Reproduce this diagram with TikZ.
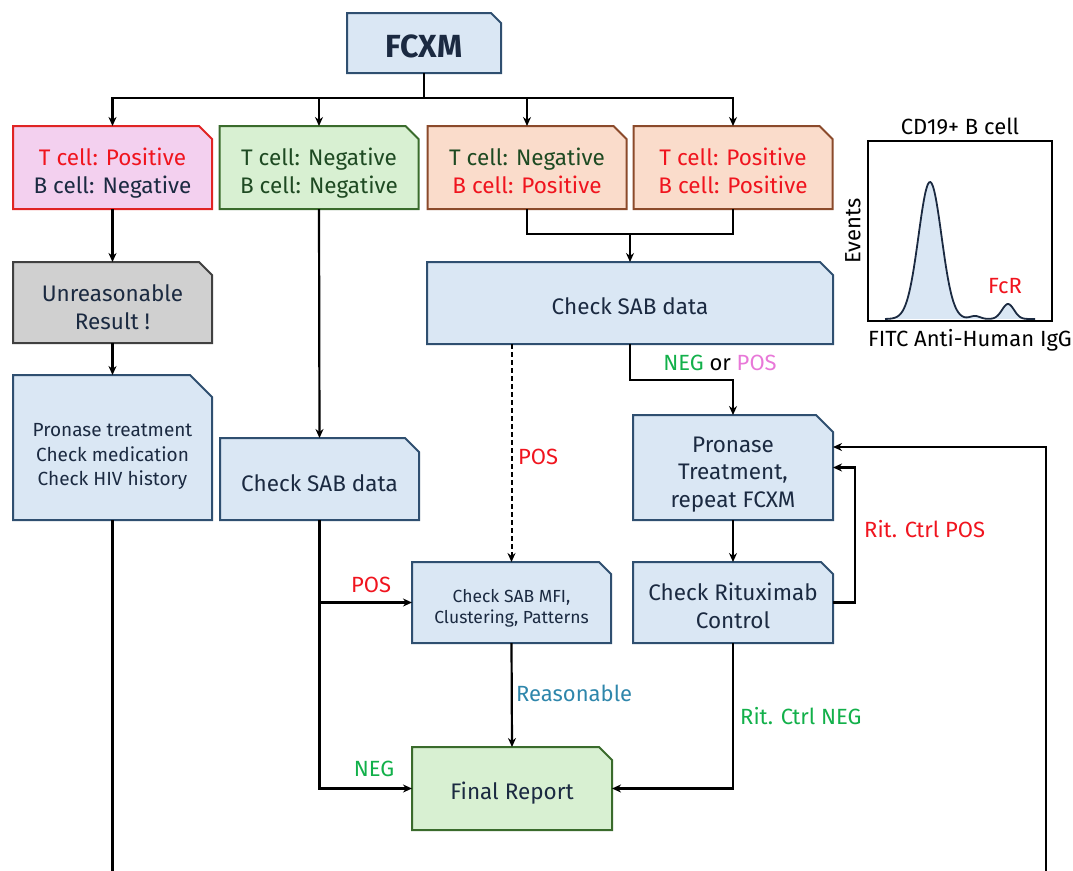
\documentclass[tikz,border=0pt]{standalone}
\usepackage{fontspec}
\setmainfont{Fira Sans}
\usetikzlibrary{arrows.meta,backgrounds}

\definecolor{bluefill}{HTML}{DAE7F4}
\definecolor{blueedge}{HTML}{2F4F70}
\definecolor{navy}{HTML}{1B2A41}
\definecolor{greenfill}{HTML}{D8F0D2}
\definecolor{greenedge}{HTML}{3A6B2C}
\definecolor{pinkfill}{HTML}{F3D0EF}
\definecolor{pinkedge}{HTML}{E02424}
\definecolor{peachfill}{HTML}{FADCCB}
\definecolor{peachedge}{HTML}{8B4A2B}
\definecolor{grayfill}{HTML}{D0D0D0}
\definecolor{grayedge}{HTML}{404040}
\definecolor{posred}{HTML}{F0141E}
\definecolor{negdark}{HTML}{1E4A22}
\definecolor{lblgreen}{HTML}{12B04A}
\definecolor{lblpink}{HTML}{E878D8}
\definecolor{lblblue}{HTML}{2E86AB}

\newcommand\fs[2]{\fontsize{#1}{#2}\selectfont}

% outline of a box with its top-right corner cut off
\newcommand\cutshape[4]{%
  \path[fill=#2, draw=#3, line width=2pt, line join=miter]
    (#1.south west) -- (#1.north west) -- ([xshift=-#4pt]#1.north east)
    -- ([yshift=-#4pt]#1.north east) -- (#1.south east) -- cycle;}

\tikzset{
  boxframe/.style={inner sep=0pt, outer sep=0pt},
  boxtext/.style={inner sep=0pt, outer sep=0pt, align=center, text=navy, font=\fs{22.5}{28}},
  arr/.style={-{Stealth[length=9pt,width=8pt]}, line width=2.2pt},
  wire/.style={line width=2.2pt},
  lbl/.style={inner sep=0pt, font=\fs{22}{26}},
}

\begin{document}
\begin{tikzpicture}[x=1pt, y=-1pt]
\useasboundingbox (0,0) rectangle (1073,870);

% ---------- boxes ----------
\node[boxframe, minimum width=154, minimum height=60] (fcxm) at (424,43) {};
\node[boxtext, font=\fs{32}{34}\bfseries] (fcxmt) at ([yshift=-3pt]fcxm.center) {FCXM};

\node[boxframe, minimum width=199, minimum height=83] (b1) at (112.5,167.5) {};
\node[boxtext] (b1t) at ([yshift=-6pt]b1.center)
  {\textcolor{posred}{T cell: Positive}\\B cell: Negative};
\node[boxframe, minimum width=199, minimum height=83] (b2) at (319,167.5) {};
\node[boxtext, text=negdark] (b2t) at ([yshift=-6pt]b2.center)
  {T cell: Negative\\B cell: Negative};
\node[boxframe, minimum width=199, minimum height=83] (b3) at (527,167.5) {};
\node[boxtext, text=negdark] (b3t) at ([yshift=-3pt]b3.center)
  {T cell: Negative\\\textcolor{posred}{B cell: Positive}};
\node[boxframe, minimum width=199, minimum height=83] (b4) at (733,167.5) {};
\node[boxtext, text=posred] (b4t) at ([yshift=-3pt]b4.center)
  {T cell: Positive\\B cell: Positive};

\node[boxframe, minimum width=199, minimum height=81] (gray) at (112.5,302.5) {};
\node[boxtext] (grayt) at ([yshift=-5pt]gray.center) {Unreasonable\\Result !};
\node[boxframe, minimum width=199, minimum height=145] (prl) at (112.5,447.5) {};
\node[boxtext, font=\fs{19}{24.5}] (prlt) at ([yshift=-9pt]prl.center)
  {Pronase treatment\\Check medication\\Check HIV history};

\node[boxframe, minimum width=406, minimum height=82] (sab) at (630,303) {};
\node[boxtext] (sabt) at ([yshift=-3.5pt]sab.center) {Check SAB data};
\node[boxframe, minimum width=199, minimum height=82] (sabl) at (319.5,479) {};
\node[boxtext] (sablt) at ([yshift=-4pt]sabl.center) {Check SAB data};

\node[boxframe, minimum width=200, minimum height=105] (prr) at (733,467.5) {};
\node[boxtext, font=\fs{22.5}{27.5}] (prrt) at ([yshift=-7pt]prr.center)
  {Pronase\\Treatment,\\repeat FCXM};
\node[boxframe, minimum width=200, minimum height=81] (rit) at (733,602.5) {};
\node[boxtext] (ritt) at ([yshift=-3.5pt]rit.center) {Check Rituximab\\Control};
\node[boxframe, minimum width=199, minimum height=81] (mfi) at (511.5,602.5) {};
\node[boxtext, font=\fs{17.5}{21}] (mfit) at ([yshift=-6pt]mfi.center)
  {Check SAB MFI,\\Clustering, Patterns};
\node[boxframe, minimum width=200, minimum height=83] (final) at (512,788.5) {};
\node[boxtext] (finalt) at ([yshift=-5pt]final.center) {Final Report};

\begin{scope}[on background layer]
  \cutshape{fcxm}{bluefill}{blueedge}{10}
  \cutshape{b1}{pinkfill}{pinkedge}{13}
  \cutshape{b2}{greenfill}{greenedge}{13}
  \cutshape{b3}{peachfill}{peachedge}{13}
  \cutshape{b4}{peachfill}{peachedge}{13}
  \cutshape{gray}{grayfill}{grayedge}{13}
  \cutshape{prl}{bluefill}{blueedge}{22}
  \cutshape{sab}{bluefill}{blueedge}{13}
  \cutshape{sabl}{bluefill}{blueedge}{14}
  \cutshape{prr}{bluefill}{blueedge}{17}
  \cutshape{rit}{bluefill}{blueedge}{12}
  \cutshape{mfi}{bluefill}{blueedge}{12}
  \cutshape{final}{greenfill}{greenedge}{13}
\end{scope}

% ---------- connectors ----------
\coordinate (bus) at (0,98);
\coordinate (merge) at (630,234);
\coordinate (lend) at (112.5,872);
\coordinate (rend) at (1046,872);

\draw[wire] (fcxm.south) -- (fcxm.south |- bus);
\draw[wire, line cap=rect] (b1.north |- bus) -- (b4.north |- bus);
\foreach \n in {b1,b2,b3,b4} \draw[arr] (\n.north |- bus) -- (\n.north);

\draw[arr] (b1.south) -- (gray.north);
\draw[arr] (gray.south) -- (prl.north);
\draw[wire] (prl.south) -- (lend);

\draw[arr] (b2.south) -- (sabl.north);
\draw[wire] (b3.south) |- (b4.south |- merge) -- (b4.south);
\draw[arr] (merge) -- (merge |- sab.north);

\draw[arr, line width=2pt, dash pattern=on 5pt off 3pt] (mfi.north |- sab.south) -- (mfi.north);
\draw[arr] (sab.south) -- ++(0,36) -| (prr.north);
\draw[arr] (prr.south) -- (rit.north);
\draw[arr] (rit.east) -- ++(22,0) |- (prr.east);
\draw[arr] (rend) |- ([yshift=20.5pt]prr.east);
\draw[arr] (rit.south) |- (final.east);

\draw[arr] (sabl.south) |- (final.west);
\draw[arr] (sabl.south |- mfi.west) -- (mfi.west);
\draw[arr] (mfi.south) -- (final.north);

% ---------- connector labels ----------
\node[lbl] (lnegpos) at (720,363) {\textcolor{lblgreen}{NEG} or \textcolor{lblpink}{POS}};
\node[lbl, text=posred] (lposd) at (538,457) {POS};
\node[lbl, text=posred] (lposb) at (371,585) {POS};
\node[lbl, text=lblgreen] (lneg) at (374,769) {NEG};
\node[lbl, text=lblblue, anchor=west] (lreas) at (516,693) {Reasonable};
\node[lbl, text=lblgreen, anchor=west] (lritneg) at (740,716) {Rit. Ctrl NEG};
\node[lbl, text=posred, anchor=west] (lritpos) at (864,529) {Rit. Ctrl POS};

% ---------- histogram inset ----------
\fill[bluefill] plot[smooth, samples=120, domain=885:1035]
  (\x, {319 - 137*exp(max(-9,-((\x-930)/11.5)^2/2)) - 3*exp(max(-9,-((\x-975)/5)^2/2)) - 15*exp(max(-9,-((\x-1008)/6)^2/2))}) -- cycle;
\draw[line width=1.8pt, navy] plot[smooth, samples=120, domain=885:1035]
  (\x, {319 - 137*exp(max(-9,-((\x-930)/11.5)^2/2)) - 3*exp(max(-9,-((\x-975)/5)^2/2)) - 15*exp(max(-9,-((\x-1008)/6)^2/2))});
\draw[line width=2pt] (868,141) rectangle (1052,321);
\node[lbl] (htitle) at (960,126) {CD19+ B cell};
\node[lbl, rotate=90] (hy) at (853,231) {Events};
\node[lbl] (hx) at (970,340) {FITC Anti-Human IgG};
\node[lbl, text=posred] (hfcr) at (1005,286) {FcR};
\end{tikzpicture}
\end{document}
